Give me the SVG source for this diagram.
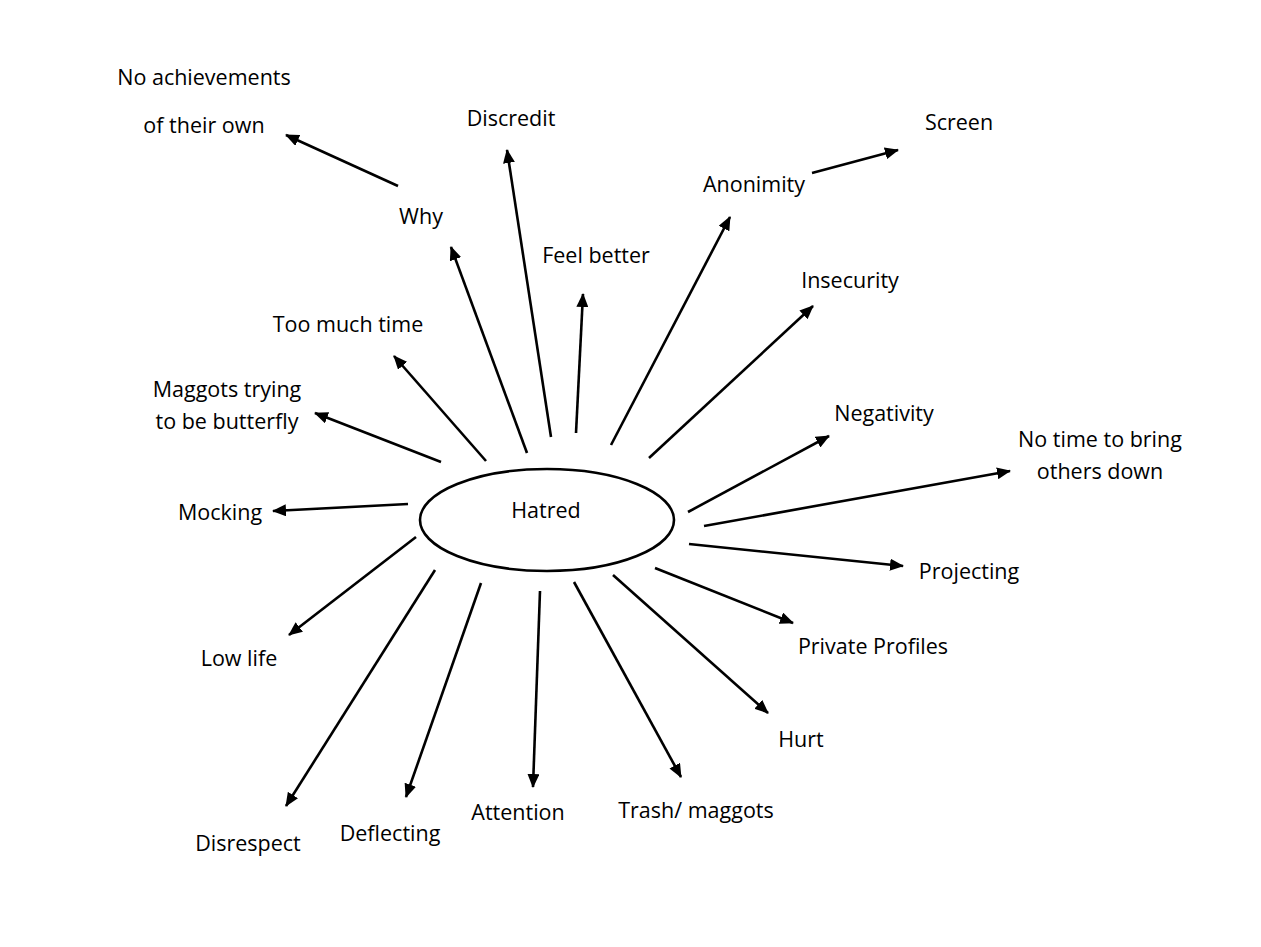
<svg xmlns="http://www.w3.org/2000/svg" width="1261" height="947" viewBox="0 0 1261 947">
<style>
text{font-family:"Open Sans","Noto Sans","Liberation Sans",sans-serif;font-size:21.5px;fill:#000;text-anchor:middle}
.c line{stroke:#000;stroke-width:2.6;marker-end:url(#ah)}
</style>
<defs>
<marker id="ah" markerUnits="userSpaceOnUse" markerWidth="14" markerHeight="12" viewBox="0 0 14 12" refX="13" refY="6" orient="auto">
<path d="M0,0 L14,6 L0,12 Z" fill="#000"/>
</marker>
</defs>
<rect width="1261" height="947" fill="#fff"/>
<g id="connectors" class="c">
<line x1="398" y1="186" x2="286" y2="135"/>
<line x1="812" y1="173" x2="898" y2="150"/>
<line x1="551" y1="437" x2="507" y2="150"/>
<line x1="527" y1="453" x2="451" y2="247"/>
<line x1="576" y1="433" x2="583" y2="294"/>
<line x1="611" y1="445" x2="730" y2="217"/>
<line x1="649" y1="458" x2="813" y2="306"/>
<line x1="486" y1="461" x2="394" y2="356"/>
<line x1="441" y1="462" x2="315" y2="413"/>
<line x1="408" y1="504" x2="273" y2="511"/>
<line x1="688" y1="512" x2="829" y2="436"/>
<line x1="704" y1="526" x2="1010" y2="471"/>
<line x1="689" y1="544" x2="903" y2="566"/>
<line x1="655" y1="568" x2="793" y2="623"/>
<line x1="613" y1="575" x2="768" y2="713"/>
<line x1="574" y1="582" x2="681" y2="777"/>
<line x1="540" y1="591" x2="533" y2="787"/>
<line x1="481" y1="583" x2="406" y2="797"/>
<line x1="435" y1="570" x2="286" y2="806"/>
<line x1="416" y1="537" x2="289" y2="635"/>
</g>
<g id="hatred"><ellipse cx="547" cy="520" rx="127" ry="51" fill="#fff" stroke="#000" stroke-width="2.6"/><text x="546" y="518">Hatred</text></g>
<g id="no-achievements"><text x="204" y="85">No achievements</text><text x="204" y="133">of their own</text></g>
<g id="discredit"><text x="511" y="126">Discredit</text></g>
<g id="screen"><text x="959" y="130">Screen</text></g>
<g id="anonimity"><text x="754" y="192">Anonimity</text></g>
<g id="why"><text x="421" y="224">Why</text></g>
<g id="feel-better"><text x="596" y="263">Feel better</text></g>
<g id="insecurity"><text x="850" y="288">Insecurity</text></g>
<g id="too-much-time"><text x="348" y="332">Too much time</text></g>
<g id="maggots"><text x="227" y="397">Maggots trying</text><text x="227" y="429">to be butterfly</text></g>
<g id="negativity"><text x="884" y="421">Negativity</text></g>
<g id="no-time"><text x="1100" y="447">No time to bring</text><text x="1100" y="479">others down</text></g>
<g id="mocking"><text x="220" y="520">Mocking</text></g>
<g id="projecting"><text x="969" y="579">Projecting</text></g>
<g id="private-profiles"><text x="873" y="654">Private Profiles</text></g>
<g id="low-life"><text x="239" y="666">Low life</text></g>
<g id="hurt"><text x="801" y="747">Hurt</text></g>
<g id="trash"><text x="696" y="818">Trash/ maggots</text></g>
<g id="attention"><text x="518" y="820">Attention</text></g>
<g id="deflecting"><text x="390" y="841">Deflecting</text></g>
<g id="disrespect"><text x="248" y="851">Disrespect</text></g>
</svg>
